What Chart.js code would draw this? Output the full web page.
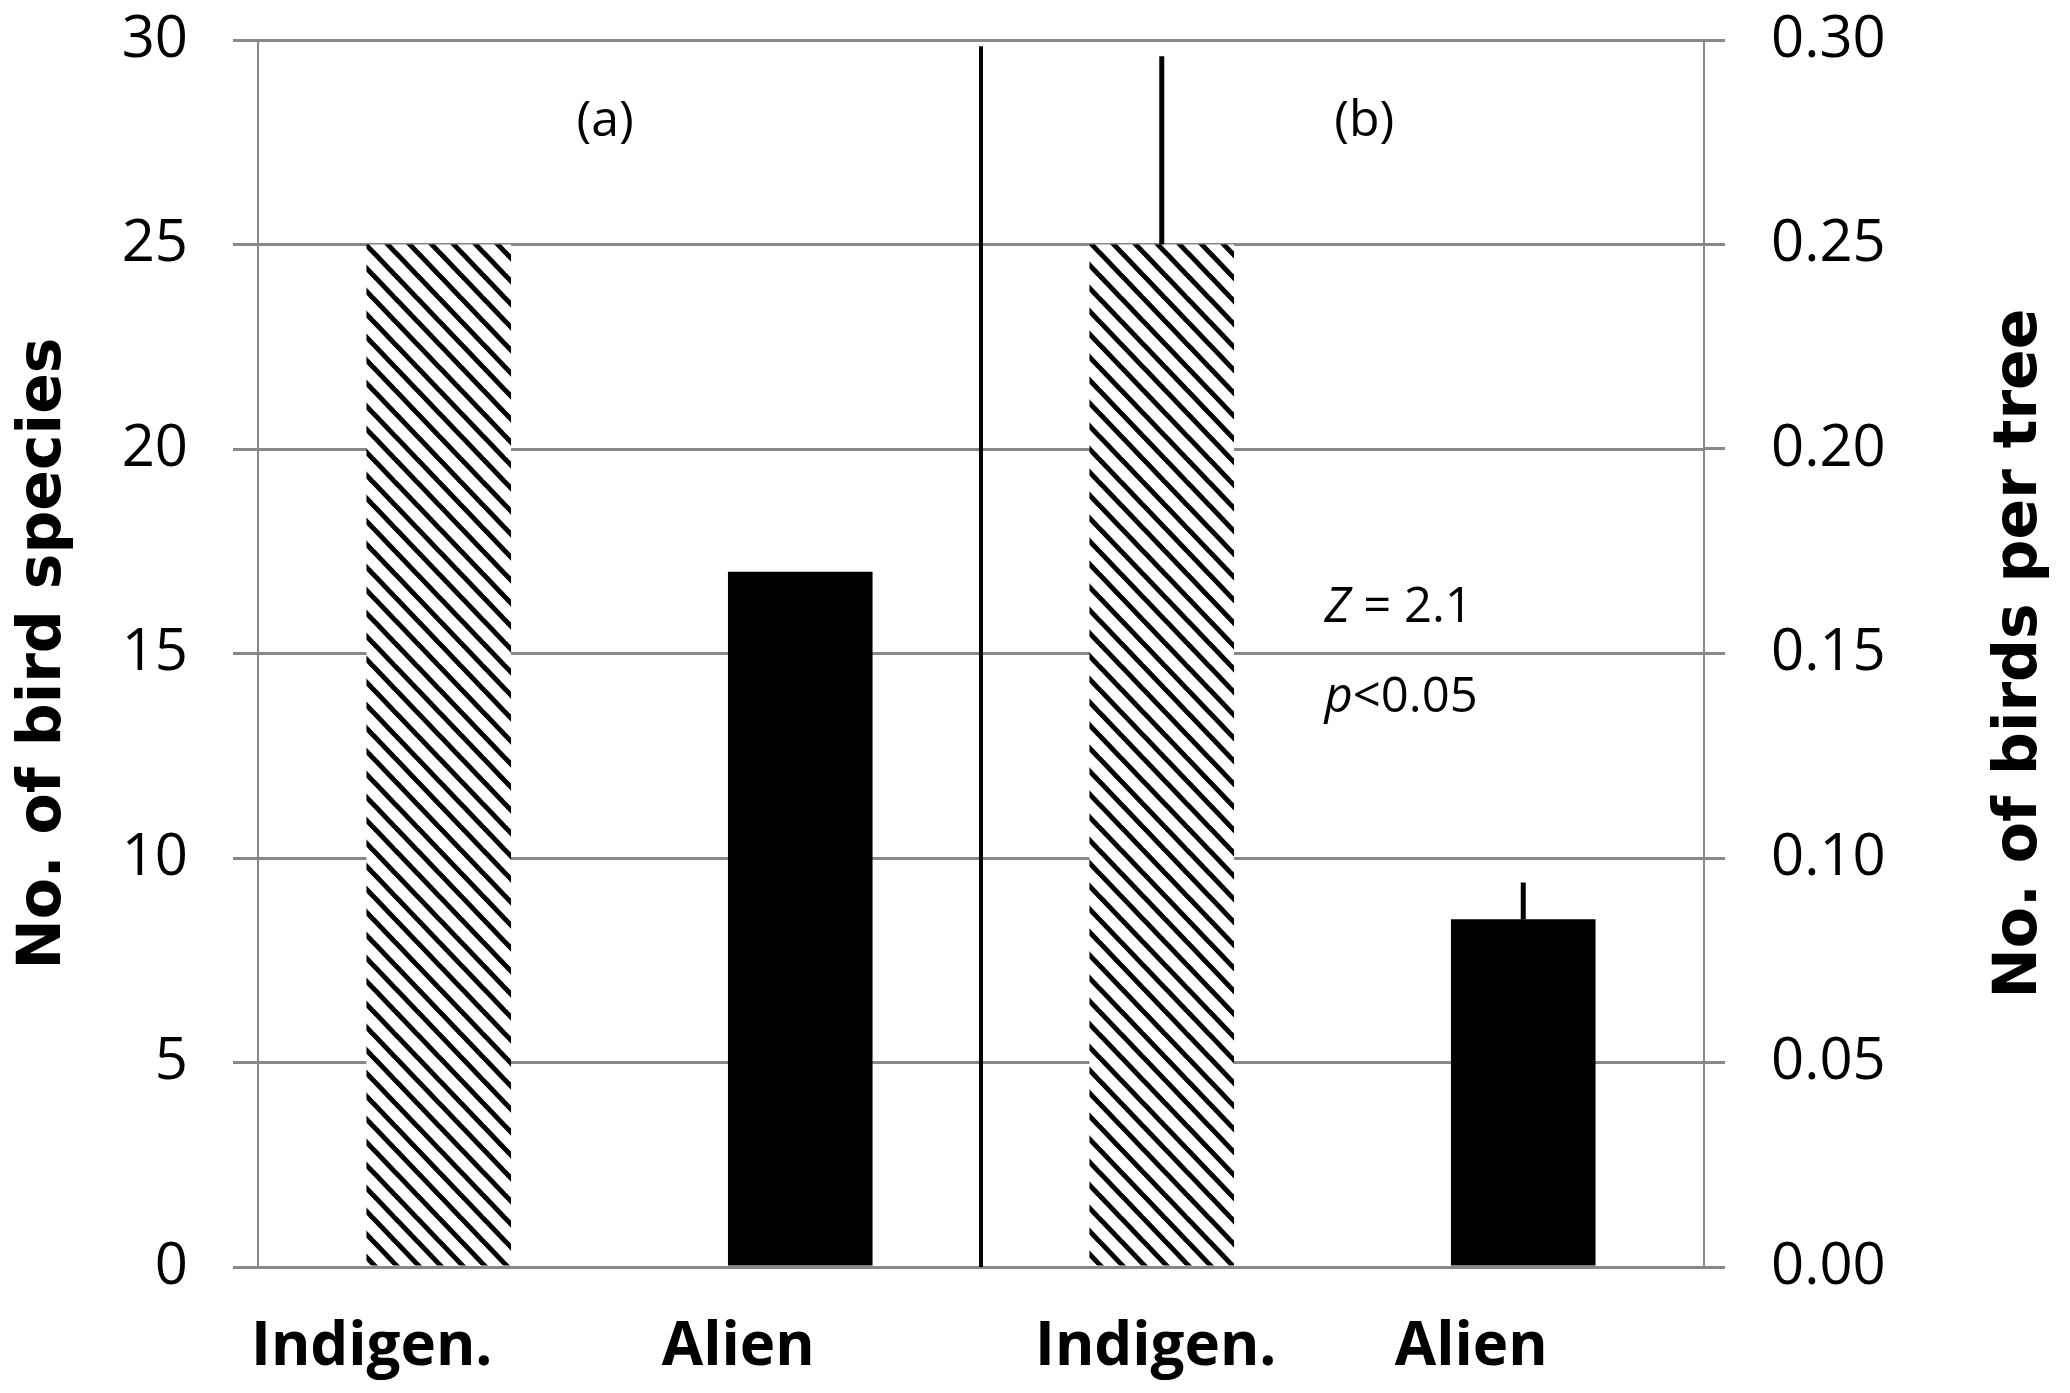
<!DOCTYPE html>
<html>
<head>
<meta charset="utf-8">
<script src="https://cdn.jsdelivr.net/npm/chart.js@4"></script>
<style>
  html, body { margin: 0; padding: 0; background: #fff; }
  #wrap { width: 2070px; height: 1393px; }
</style>
</head>
<body>
<div id="wrap"><canvas id="birds" width="2070" height="1393"></canvas></div>
<script>
// categories along the bottom: panel (a) then panel (b)
const categories = ["Indigen.", "Alien", "Indigen.", "Alien"];
// panel (a): number of bird species (left axis)
const speciesCount = [25, 17, null, null];
// panel (b): birds per tree (right axis) and top of the error bars
const birdsPerTree = [null, null, 0.25, 0.085];
const birdsPerTreeUpper = [null, null, 0.296, 0.094];
// tick labels
const speciesTicks = [0, 5, 10, 15, 20, 25, 30];
const perTreeTicks = [0, 0.05, 0.10, 0.15, 0.20, 0.25, 0.30];

const TICK_FONT = { family: "'Open Sans', sans-serif", size: 58 };
const TITLE_FONT = { family: "'DejaVu Sans', sans-serif", size: 60, weight: "bold" };

// diagonal hatch fill for the indigenous bars
function makeHatch() {
    const w = 22, h = 23;
    const tile = document.createElement("canvas");
    tile.width = w;
    tile.height = h;
    const c = tile.getContext("2d");
    c.fillStyle = "#fff";
    c.fillRect(0, 0, w, h);
    c.strokeStyle = "#000";
    c.lineWidth = 5;
    for (let k = -1; k <= 1; k++) {
        c.beginPath();
        c.moveTo(-w, -h + k * h);
        c.lineTo(2 * w, 2 * h + k * h);
        c.stroke();
    }
    return c.createPattern(tile, "repeat");
}

const ctx = document.getElementById("birds");
const hatch = makeHatch();
const fills = categories.map(c => c === "Indigen." ? hatch : "#000000");

// error bars, panel divider, category labels and notes
const extras = {
    id: "extras",
    afterDatasetsDraw(chart) {
        const c = chart.ctx;
        const x = chart.scales.x, yL = chart.scales.y, yR = chart.scales.y1;
        c.save();
        c.strokeStyle = "#000";
        c.lineCap = "butt";

        // error bars (upper only)
        c.lineWidth = 5;
        birdsPerTreeUpper.forEach((top, i) => {
            if (top == null) return;
            const px = x.getPixelForValue(i);
            c.beginPath();
            c.moveTo(px, yR.getPixelForValue(birdsPerTree[i]));
            c.lineTo(px, yR.getPixelForValue(top));
            c.stroke();
        });

        // divider between the two panels
        const mid = (x.getPixelForValue(1) + x.getPixelForValue(2)) / 2;
        c.lineWidth = 4;
        c.beginPath();
        c.moveTo(mid, yL.getPixelForValue(29.85));
        c.lineTo(mid, yL.getPixelForValue(0));
        c.stroke();

        // category labels, nudged like the original text boxes
        const nudge = [-67, -62, -6, -52];
        c.fillStyle = "#000";
        c.font = "bold 60px 'Open Sans', sans-serif";
        c.textAlign = "center";
        c.textBaseline = "alphabetic";
        categories.forEach((lab, i) => {
            c.fillText(lab, x.getPixelForValue(i) + nudge[i], 1365);
        });

        // panel letters
        c.font = "50px 'Open Sans', sans-serif";
        c.textBaseline = "middle";
        c.fillText("(a)", x.getPixelForValue(0.46), yL.getPixelForValue(28.0));
        c.fillText("(b)", x.getPixelForValue(2.56), yL.getPixelForValue(28.0));

        // test statistic
        c.textAlign = "left";
        c.textBaseline = "alphabetic";
        const sx = x.getPixelForValue(2.45);
        let yy = yL.getPixelForValue(15.76);
        c.font = "italic 49px 'Open Sans', sans-serif";
        c.fillText("Z", sx, yy);
        let w = c.measureText("Z").width;
        c.font = "49px 'Open Sans', sans-serif";
        c.fillText(" = 2.1", sx + w, yy);
        yy = yL.getPixelForValue(13.56);
        c.font = "italic 49px 'Open Sans', sans-serif";
        c.fillText("p", sx, yy);
        w = c.measureText("p").width;
        c.font = "49px 'Open Sans', sans-serif";
        c.fillText("<0.05", sx + w, yy);

        // right axis title, reading bottom to top
        c.font = "bold 60px 'DejaVu Sans', sans-serif";
        c.textAlign = "center";
        c.textBaseline = "middle";
        c.translate(2020, (chart.chartArea.top + chart.chartArea.bottom) / 2);
        c.rotate(-Math.PI / 2);
        c.fillText("No. of birds per tree", 0, 0);
        c.restore();
    }
};

new Chart(ctx, {
    type: "bar",
    data: {
        labels: categories,
        datasets: [
            {
                label: "No. of bird species",
                data: speciesCount,
                yAxisID: "y",
                backgroundColor: fills
            },
            {
                label: "No. of birds per tree",
                data: birdsPerTree,
                yAxisID: "y1",
                backgroundColor: fills
            }
        ]
    },
    options: {
        responsive: false,
        animation: false,
        grouped: false,
        barPercentage: 0.4,
        categoryPercentage: 1.0,
        layout: {
            padding: { top: 40, left: 0, right: 0, bottom: 0 }
        },
        scales: {
            x: {
                grid: { display: false },
                border: { display: false },
                ticks: { display: false },
                afterFit: s => { s.height = 126; }
            },
            y: {
                position: "left",
                min: 0,
                max: 30,
                afterBuildTicks: s => { s.ticks = speciesTicks.map(v => ({ value: v })); },
                ticks: { font: TICK_FONT, color: "#000", padding: 45 },
                grid: { color: "#888", lineWidth: 3, tickLength: 25 },
                border: { color: "#888", width: 2 },
                title: {
                    display: true,
                    text: "No. of bird species",
                    color: "#000",
                    font: TITLE_FONT,
                    padding: { top: 8, bottom: 0 }
                },
                afterFit: s => { s.width = 258; s.paddingTop = 0; s.paddingBottom = 0; }
            },
            y1: {
                position: "right",
                min: 0,
                max: 0.3,
                afterBuildTicks: s => { s.ticks = perTreeTicks.map(v => ({ value: v })); },
                ticks: {
                    font: TICK_FONT,
                    color: "#000",
                    padding: 46,
                    callback: v => Number(v).toFixed(2)
                },
                grid: { drawOnChartArea: false, color: "#888", lineWidth: 3, tickLength: 21 },
                border: { color: "#888", width: 2 },
                afterFit: s => { s.width = 366; s.paddingTop = 0; s.paddingBottom = 0; }
            }
        },
        plugins: {
            legend: { display: false },
            tooltip: { enabled: false }
        }
    },
    plugins: [extras]
});
</script>
</body>
</html>
